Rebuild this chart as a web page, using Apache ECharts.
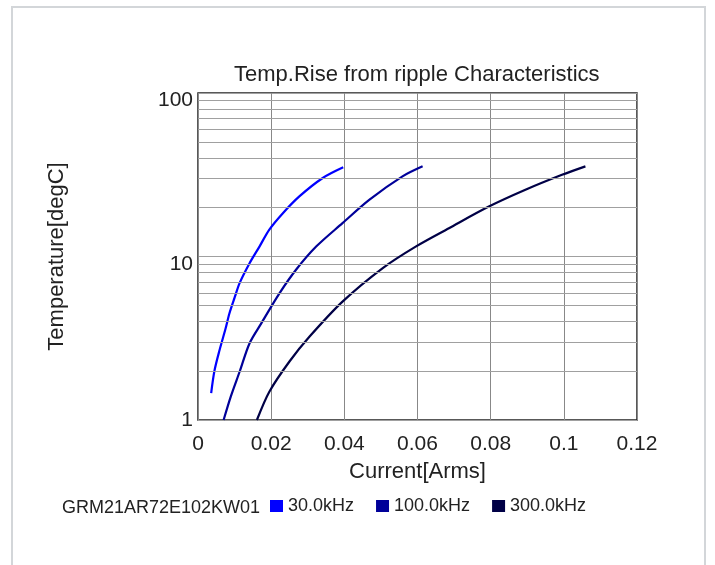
<!DOCTYPE html>
<html>
<head>
<meta charset="utf-8">
<script src="https://cdn.jsdelivr.net/npm/echarts@6/dist/echarts.min.js"></script>
<style>html,body{margin:0;padding:0;background:#fff;}#c{width:715px;height:565px;}</style>
</head>
<body>
<div id="c"></div>
<script>
var titleText = 'Temp.Rise from ripple Characteristics';
var xName = 'Current[Arms]';
var yName = 'Temperature[degC]';
var partName = 'GRM21AR72E102KW01';
var seriesNames = ['30.0kHz', '100.0kHz', '300.0kHz'];
var seriesColors = ['#0000ff', '#000099', '#000046'];

var current30 = [0.0036, 0.0045, 0.0059, 0.0075, 0.0086, 0.0100, 0.0114, 0.0141, 0.0168, 0.0195, 0.0232, 0.0277, 0.0341, 0.0397];
var temp30    = [1.46, 2.0, 2.68, 3.6, 4.5, 5.6, 6.9, 9.1, 11.5, 14.6, 18.4, 23.3, 30.2, 35.1];

var current100 = [0.0070, 0.0090, 0.0114, 0.0141, 0.0173, 0.0223, 0.0268, 0.0323, 0.0395, 0.0468, 0.0559, 0.0614];
var temp100    = [1.0, 1.4, 1.98, 2.95, 3.9, 5.97, 8.3, 11.5, 16.0, 22.2, 30.9, 35.6];

var current300 = [0.0161, 0.0195, 0.0250, 0.0305, 0.0395, 0.0505, 0.0595, 0.0686, 0.0795, 0.0895, 0.0995, 0.1059];
var temp300    = [1.0, 1.49, 2.28, 3.24, 5.3, 8.5, 11.5, 14.9, 20.2, 25.6, 31.6, 35.6];

var minorGridValues = [2, 3, 4, 5, 6, 7, 8, 9, 20, 30, 40, 50, 60, 70, 80, 90];

function pairs(xs, ys) { return xs.map(function (x, i) { return [x, ys[i]]; }); }

var font = "'Liberation Sans', Arial, sans-serif";
var chart = echarts.init(document.getElementById('c'), null, {renderer: 'canvas'});

var curves = [pairs(current30, temp30), pairs(current100, temp100), pairs(current300, temp300)];

var series = [{
  name: 'grid-minor',
  type: 'line',
  data: [],
  z: 1,
  silent: true,
  markLine: {
    silent: true,
    symbol: ['none', 'none'],
    label: {show: false},
    lineStyle: {type: 'solid', color: '#a0a0a0', width: 1},
    animation: false,
    data: minorGridValues.map(function (v) { return {yAxis: v}; })
  }
}];
curves.forEach(function (d, i) {
  series.push({
    name: seriesNames[i],
    type: 'line',
    data: d,
    z: 3,
    smooth: 0.3,
    showSymbol: false,
    symbol: 'none',
    lineStyle: {color: seriesColors[i], width: 2.2},
    itemStyle: {color: seriesColors[i]}
  });
});

chart.setOption({
  animation: false,
  backgroundColor: '#ffffff',
  textStyle: {fontFamily: font},
  title: {
    text: titleText,
    left: 229,
    top: 59,
    textStyle: {fontFamily: font, fontSize: 22, fontWeight: 'normal', color: '#222'}
  },
  graphic: [{
    type: 'rect',
    shape: {x: 12, y: 7, width: 693, height: 620},
    style: {fill: 'none', stroke: '#d3d6d9', lineWidth: 2},
    silent: true
  }, {
    type: 'text',
    left: 62,
    top: 499,
    style: {text: partName, font: '18px ' + font, fill: '#222'},
    silent: true
  }],
  legend: {
    data: seriesNames,
    left: 270,
    top: 497,
    icon: 'rect',
    itemWidth: 13,
    itemHeight: 12,
    itemGap: 22,
    padding: 0,
    textStyle: {fontFamily: font, fontSize: 18, color: '#222', padding: [5, 0, 0, 0]}
  },
  grid: {
    left: 198, top: 93, width: 439, height: 327,
    show: true, borderColor: '#222', borderWidth: 1.5, backgroundColor: 'transparent'
  },
  xAxis: {
    type: 'value',
    min: 0, max: 0.12, interval: 0.02,
    name: xName,
    nameLocation: 'middle',
    nameGap: 41,
    nameTextStyle: {fontFamily: font, fontSize: 22, color: '#222'},
    axisLine: {show: false},
    axisTick: {show: false},
    axisLabel: {fontFamily: font, fontSize: 21, color: '#222', margin: 14},
    splitLine: {show: true, lineStyle: {color: '#888', width: 1}}
  },
  yAxis: {
    type: 'log',
    logBase: 10,
    min: 1, max: 100,
    name: yName,
    nameLocation: 'middle',
    nameRotate: 90,
    nameGap: 130,
    nameTextStyle: {fontFamily: font, fontSize: 22, color: '#222'},
    axisLine: {show: false},
    axisTick: {show: false},
    axisLabel: {
      margin: 5,
      formatter: function (v) { return v === 1 ? '{a|1}' : '{b|' + v + '}'; },
      rich: {
        a: {fontFamily: font, fontSize: 21, color: '#222'},
        b: {fontFamily: font, fontSize: 21, color: '#222', padding: [15, 0, 0, 0]}
      }
    },
    splitLine: {show: true, lineStyle: {color: '#a0a0a0', width: 1}}
  },
  series: series
});
</script>
</body>
</html>
